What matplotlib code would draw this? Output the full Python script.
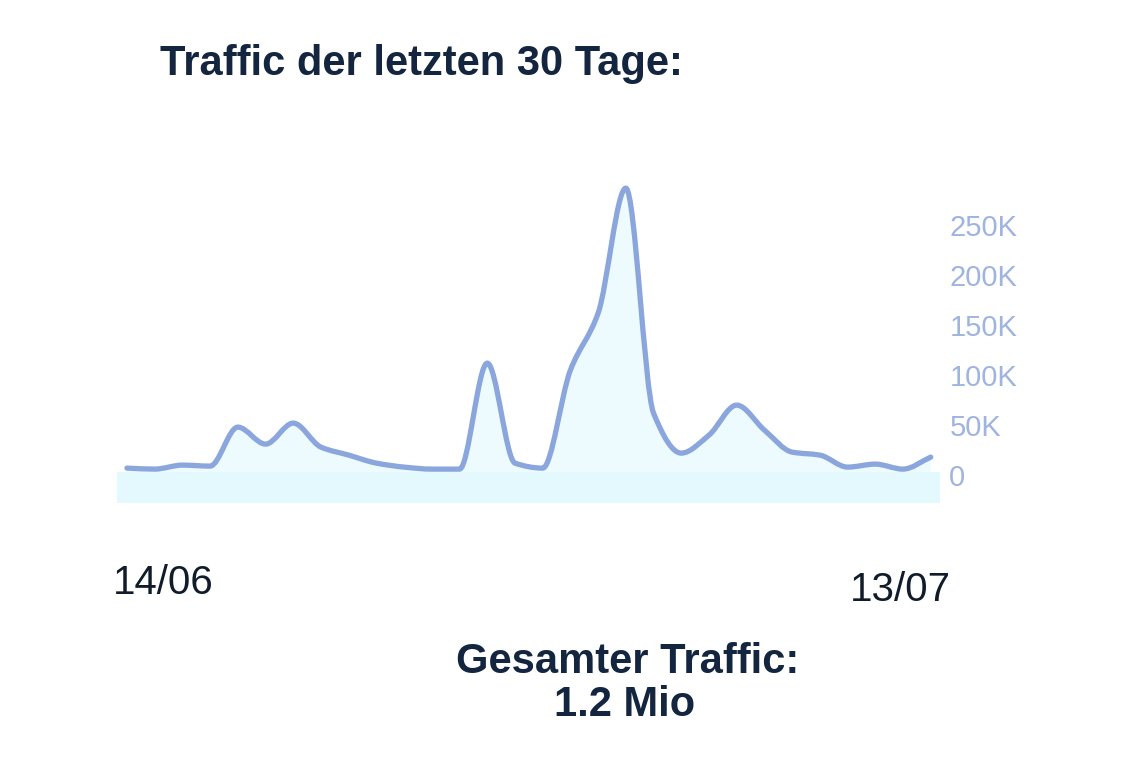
import numpy as np
import matplotlib.pyplot as plt
from matplotlib.path import Path
from matplotlib.patches import PathPatch

# daily visits (in thousands), 14/06 .. 13/07
days = np.arange(30)
visits_k = [7, 6, 10, 9, 48, 31, 52, 28, 20, 12,
            8, 6, 6, 112, 12, 7, 105, 162, 287, 62,
            22, 40, 70, 45, 23, 20, 8, 11, 6, 18]
yticks = [0, 50, 100, 150, 200, 250]
ytick_labels = ['0', '50K', '100K', '150K', '200K', '250K']
first_day = '14/06'
last_day = '13/07'
title = 'Traffic der letzten 30 Tage:'
total_title = 'Gesamter Traffic:'
total_value = '1.2 Mio'

navy = '#13253f'
line_col = '#8aa6dc'
tick_col = '#a0b4e0'

plt.rcParams['font.family'] = ['Liberation Sans', 'DejaVu Sans']


def smooth_path(x, y, close_to=None):
    # monotone cubic curve through the points (no overshoot), as Bezier segments
    x = np.asarray(x, float)
    y = np.asarray(y, float)
    n = len(x)
    h = np.diff(x)
    d = np.diff(y) / h
    m = np.zeros(n)
    m[0], m[-1] = d[0], d[-1]
    for i in range(1, n - 1):
        if d[i - 1] * d[i] > 0:
            m[i] = 2 / (1 / d[i - 1] + 1 / d[i])
    verts = [(x[0], y[0])]
    codes = [Path.MOVETO]
    for i in range(n - 1):
        c1 = (x[i] + h[i] / 3, y[i] + m[i] * h[i] / 3)
        c2 = (x[i + 1] - h[i] / 3, y[i + 1] - m[i + 1] * h[i] / 3)
        verts += [c1, c2, (x[i + 1], y[i + 1])]
        codes += [Path.CURVE4] * 3
    if close_to is not None:
        verts += [(x[-1], close_to), (x[0], close_to), (x[0], y[0])]
        codes += [Path.LINETO, Path.LINETO, Path.CLOSEPOLY]
    return Path(verts, codes)


fig = plt.figure(figsize=(11.3, 7.8), dpi=100)
ax = fig.add_axes([0.1035, 0.355, 0.728, 0.414])

ax.set_xlim(-0.36, 29.32)
ax.set_ylim(-28, 295)

ax.add_patch(PathPatch(smooth_path(days, visits_k, close_to=-28),
                       facecolor='#edfafe', edgecolor='none', zorder=1))
ax.axhspan(-28, 3, color='#e4f9fe', zorder=2, lw=0)
ax.add_patch(PathPatch(smooth_path(days, visits_k), facecolor='none',
                       edgecolor=line_col, lw=3.8, capstyle='round',
                       joinstyle='round', zorder=3))

for s in ax.spines.values():
    s.set_visible(False)
ax.set_xticks([])
ax.yaxis.tick_right()
ax.set_yticks(yticks)
ax.set_yticklabels(ytick_labels)
ax.tick_params(axis='y', length=0, pad=7, labelsize=21, labelcolor=tick_col)

fig.text(0.142, 0.918, title, fontsize=30, fontweight='bold', color=navy,
         ha='left', va='center')
fig.text(0.100, 0.253, first_day, fontsize=29, color='#111c2b',
         ha='left', va='center')
fig.text(0.752, 0.244, last_day, fontsize=29, color='#111c2b',
         ha='left', va='center')
fig.text(0.555, 0.151, total_title, fontsize=30, fontweight='bold',
         color=navy, ha='center', va='center')
fig.text(0.553, 0.096, total_value, fontsize=30, fontweight='bold',
         color=navy, ha='center', va='center')

plt.savefig('out.png', dpi=100)
